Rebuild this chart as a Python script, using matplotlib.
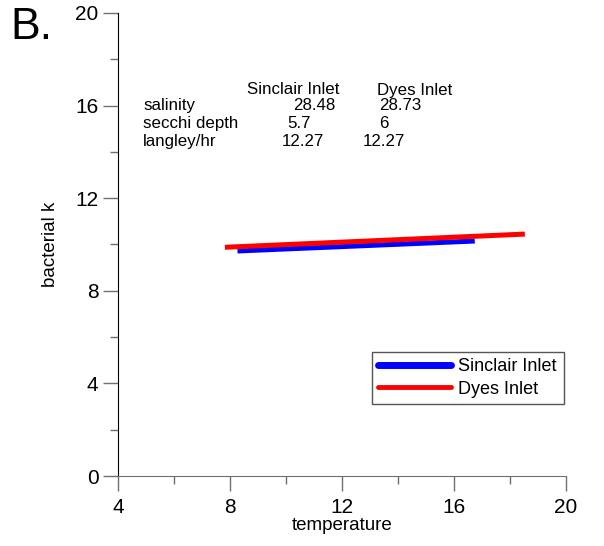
import matplotlib
matplotlib.use("Agg")
import matplotlib.pyplot as plt
from matplotlib.lines import Line2D
from matplotlib.ticker import MultipleLocator

plt.rcParams['font.family'] = ['Liberation Sans', 'DejaVu Sans']

# Data
series_names = ["Sinclair Inlet", "Dyes Inlet"]
temp_sinclair = [8.27, 16.75]
k_sinclair = [9.72, 10.15]
temp_dyes = [7.82, 18.54]
k_dyes = [9.88, 10.45]
colors = ["#0000ff", "#ff0000"]

table_header = ["Sinclair Inlet", "Dyes Inlet"]
table_rows = ["salinity", "secchi depth", "langley/hr"]
table_sinclair = ["28.48", "5.7", "12.27"]
table_dyes = ["28.73", "6", "12.27"]

W, H = 604, 546
fig = plt.figure(figsize=(W / 100, H / 100), dpi=100)
ax = fig.add_axes([118 / W, 1 - 476 / H, (565.7 - 118) / W, (476 - 13) / H])

ax.plot(temp_sinclair, k_sinclair, color=colors[0], lw=3.6, solid_capstyle='butt', zorder=2)
ax.plot(temp_dyes, k_dyes, color=colors[1], lw=3.6, solid_capstyle='butt', zorder=3)

ax.set_xlim(4, 20)
ax.set_ylim(0, 20)
ax.xaxis.set_major_locator(MultipleLocator(4))
ax.xaxis.set_minor_locator(MultipleLocator(2))
ax.yaxis.set_major_locator(MultipleLocator(4))
ax.yaxis.set_minor_locator(MultipleLocator(2))
for s in ['top', 'right']:
    ax.spines[s].set_visible(False)
ax.spines['left'].set_color('black')
ax.spines['bottom'].set_color('#707070')
ax.tick_params(which='major', length=11, width=1, color='#707070', labelsize=15, pad=3)
ax.tick_params(which='minor', length=5.5, width=1, color='#707070')
ax.tick_params(axis='x', which='major', pad=5)

ax.set_xlabel("temperature", fontsize=13.5, labelpad=0)
ax.set_ylabel("bacterial k", fontsize=13.5, labelpad=12)

def ftext(x, y, s, **kw):
    fig.text(x / W, 1 - y / H, s, va='baseline', ha='left', **kw)

fs = 12.2
ftext(247, 94.5, table_header[0], fontsize=fs)
ftext(377, 94.5, table_header[1], fontsize=fs)
row_y = [110, 128, 146]
sx = [293, 287, 282]
dx = [379, 379, 363]
for i, r in enumerate(table_rows):
    ftext(143, row_y[i], r, fontsize=fs)
    ftext(sx[i], row_y[i], table_sinclair[i], fontsize=fs)
    ftext(dx[i], row_y[i], table_dyes[i], fontsize=fs)

ftext(10, 39, "B.", fontsize=32)

handles = [Line2D([], [], color=colors[0], lw=5, solid_capstyle='round'),
           Line2D([], [], color=colors[1], lw=3.5, solid_capstyle='round')]
leg = ax.legend(handles, series_names, loc='lower left',
                bbox_to_anchor=(372 / W, 1 - 404 / H, (564 - 372) / W, (404 - 351) / H),
                bbox_transform=fig.transFigure, mode='expand',
                fontsize=13, fancybox=False, framealpha=1, edgecolor='#555555',
                handlelength=4.0, handletextpad=0.4, borderaxespad=0, borderpad=0.35,
                labelspacing=0.3)
leg.get_frame().set_linewidth(1.0)

fig.savefig("out.png", dpi=100)
